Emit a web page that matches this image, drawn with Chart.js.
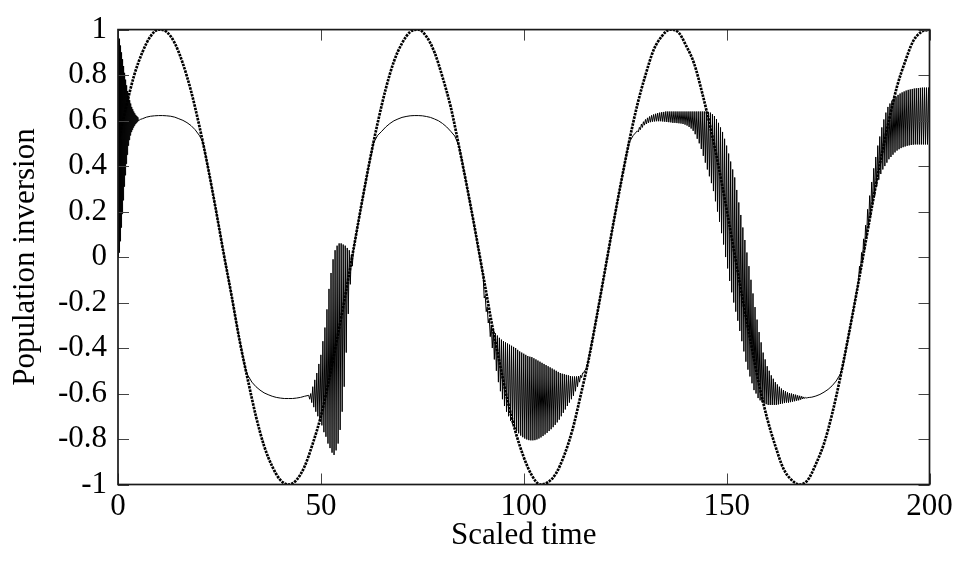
<!DOCTYPE html>
<html>
<head>
<meta charset="utf-8">
<script src="https://cdn.jsdelivr.net/npm/chart.js@4.4.0/dist/chart.umd.min.js"></script>
<style>
  html, body { margin: 0; padding: 0; background: #fff; }
</style>
</head>
<body>
<canvas id="chart" width="970" height="569"></canvas>
<script>
// dotted curve (driving field), sampled every 2 time units
const fieldTimes = [0, 2, 4, 6, 8, 10, 12, 14, 16, 18, 20, 22, 24, 26, 28, 30, 32, 34, 36, 38,
    40, 42, 44, 46, 48, 50, 52, 54, 56, 58, 60, 62, 64, 66, 68, 70, 72, 74, 76, 78,
    80, 82, 84, 86, 88, 90, 92, 94, 96, 98, 100, 102, 104, 106, 108, 110, 112, 114, 116, 118,
    120, 122, 124, 126, 128, 130, 132, 134, 136, 138, 140, 142, 144, 146, 148, 150, 152, 154, 156, 158,
    160, 162, 164, 166, 168, 170, 172, 174, 176, 178, 180, 182, 184, 186, 188, 190, 192, 194, 196, 198, 200];
const fieldValues = [0.50, 0.66, 0.80, 0.90, 0.97, 1.00, 0.99, 0.94, 0.85, 0.73, 0.58, 0.41, 0.22, 0.02, -0.17, -0.37, -0.54, -0.70, -0.83, -0.92,
    -0.98, -1.00, -0.98, -0.92, -0.82, -0.70, -0.54, -0.36, -0.17, 0.03, 0.23, 0.42, 0.59, 0.74, 0.86, 0.94, 0.99, 1.00, 0.97, 0.90,
    0.79, 0.66, 0.49, 0.31, 0.12, -0.08, -0.28, -0.46, -0.63, -0.77, -0.88, -0.96, -1.00, -0.99, -0.95, -0.87, -0.76, -0.61, -0.45, -0.26,
    -0.06, 0.14, 0.33, 0.51, 0.67, 0.80, 0.91, 0.97, 1.00, 0.99, 0.93, 0.85, 0.72, 0.57, 0.40, 0.21, 0.01, -0.19, -0.38, -0.56,
    -0.71, -0.83, -0.93, -0.98, -1.00, -0.98, -0.91, -0.82, -0.69, -0.53, -0.35, -0.16, 0.04, 0.24, 0.43, 0.60, 0.75, 0.86, 0.95, 0.99, 1.00];

// thin curve: smooth stretches as [time, inversion] pairs
const smoothOne = [[5.25, 0.602], [5.5, 0.605], [6, 0.608], [7, 0.615], [8, 0.619], [9, 0.621], [10, 0.622], [11, 0.622], [12, 0.621],
    [13, 0.619], [14, 0.615], [15, 0.608], [16, 0.601], [17, 0.591], [18, 0.578], [19, 0.56], [20, 0.536], [20.5, 0.52],
    [21, 0.5], [21.5, 0.455], [22, 0.41], [23, 0.317], [24, 0.221], [25, 0.123], [26, 0.023], [27, -0.076], [28, -0.174],
    [29, -0.272], [30, -0.367], [31, -0.457], [31.5, -0.5], [32, -0.52], [33, -0.55], [34, -0.57], [35, -0.585],
    [36, -0.597], [37, -0.605], [38, -0.612], [39, -0.617], [40, -0.62], [41, -0.622], [42, -0.622], [43, -0.622],
    [44, -0.62], [45, -0.617], [46, -0.612], [47, -0.608]];
const smoothTwo = [[59, 0.13], [60, 0.228], [61, 0.324], [62, 0.417], [62.5, 0.46], [63, 0.503], [64, 0.535], [65, 0.553],
    [66, 0.572], [67, 0.587], [68, 0.599], [69, 0.607], [70, 0.614], [71, 0.618], [72, 0.621], [73, 0.622], [74, 0.622],
    [75, 0.621], [76, 0.618], [77, 0.614], [78, 0.607], [79, 0.599], [80, 0.587], [81, 0.572], [82, 0.553], [83, 0.532],
    [84, 0.49], [84.5, 0.45], [85, 0.405], [86, 0.31], [87, 0.214], [88, 0.116], [89, 0.016], [90, -0.083]];
const smoothThree = [[115.5, -0.49], [116, -0.446], [117, -0.356], [118, -0.26], [119, -0.162], [120, -0.063], [121, 0.037],
    [122, 0.136], [123, 0.235], [124, 0.331], [125, 0.423], [125.5, 0.467], [126, 0.505], [127, 0.535], [128, 0.555]];
const smoothFour = [[170.5, -0.617], [171, -0.616], [172, -0.611], [173, -0.604], [174, -0.594], [175, -0.582], [176, -0.566],
    [177, -0.545], [178, -0.515], [178.5, -0.49], [179, -0.449], [180, -0.35], [181, -0.253], [182, -0.155], [182.5, -0.106]];

// thin curve: fast oscillation stretches, start time + values on a fixed time step
const burstStep = [0.125, 0.25, 0.25, 0.25, 0.25];
const burstFrom = [0, 47.25, 90.25, 128.25, 182.75];
const burstOne = [0, 0.98, 0.02, 0.96, 0.07, 0.93, 0.13, 0.9, 0.19, 0.87, 0.25, 0.84, 0.31, 0.81, 0.36, 0.78,
    0.41, 0.755, 0.45, 0.73, 0.49, 0.71, 0.515, 0.69, 0.535, 0.675, 0.55, 0.66, 0.56, 0.65, 0.57, 0.64,
    0.578, 0.632, 0.585, 0.625, 0.59, 0.62, 0.595, 0.615, 0.6];
const burstTwo = [-0.625, -0.6, -0.64, -0.57, -0.66, -0.54, -0.68, -0.51, -0.7, -0.47, -0.72, -0.43, -0.74, -0.37,
    -0.77, -0.31, -0.79, -0.23, -0.82, -0.14, -0.84, -0.07, -0.86, -0.01, -0.87, 0.03, -0.85, 0.05, -0.82, 0.06,
    -0.76, 0.06, -0.68, 0.055, -0.57, 0.05, -0.42, 0.04, -0.25, 0.03, -0.12, 0.01, -0.04, 0.03];
const burstThree = [-0.18, -0.17, -0.24, -0.22, -0.29, -0.27, -0.35, -0.3, -0.4, -0.32, -0.45, -0.335, -0.5, -0.345,
    -0.55, -0.355, -0.59, -0.363, -0.625, -0.37, -0.655, -0.375, -0.68, -0.38, -0.7, -0.385, -0.72, -0.39, -0.735, -0.395,
    -0.75, -0.4, -0.765, -0.408, -0.775, -0.415, -0.785, -0.42, -0.792, -0.425, -0.798, -0.43, -0.802, -0.435, -0.805, -0.438,
    -0.806, -0.44, -0.806, -0.445, -0.805, -0.45, -0.802, -0.455, -0.798, -0.46, -0.793, -0.465, -0.787, -0.47, -0.78, -0.475,
    -0.773, -0.48, -0.765, -0.485, -0.757, -0.49, -0.748, -0.495, -0.738, -0.5, -0.727, -0.505, -0.715, -0.51, -0.7, -0.513,
    -0.685, -0.515, -0.67, -0.518, -0.655, -0.52, -0.64, -0.523, -0.625, -0.525, -0.61, -0.525, -0.59, -0.525, -0.57, -0.523,
    -0.55, -0.52, -0.53, -0.51, -0.51, -0.5];
const burstFour = [0.55, 0.57, 0.56, 0.585, 0.57, 0.595, 0.58, 0.605, 0.585, 0.612, 0.59, 0.618, 0.593, 0.623, 0.595, 0.627,
    0.596, 0.63, 0.597, 0.633, 0.597, 0.635, 0.597, 0.637, 0.596, 0.638, 0.595, 0.64, 0.594, 0.64, 0.593, 0.64,
    0.592, 0.64, 0.59, 0.64, 0.59, 0.64, 0.589, 0.64, 0.588, 0.64, 0.587, 0.64, 0.585, 0.64, 0.582, 0.64,
    0.578, 0.64, 0.572, 0.64, 0.565, 0.64, 0.555, 0.64, 0.54, 0.64, 0.52, 0.64, 0.5, 0.64,
    0.475, 0.64, 0.445, 0.64, 0.415, 0.64, 0.385, 0.638, 0.355, 0.635, 0.325, 0.628, 0.29, 0.62, 0.245, 0.607,
    0.2, 0.59, 0.155, 0.57, 0.105, 0.55, 0.055, 0.52, 0, 0.49, -0.05, 0.455, -0.105, 0.42, -0.155, 0.385,
    -0.2, 0.35, -0.24, 0.295, -0.28, 0.24, -0.325, 0.185, -0.37, 0.13, -0.415, 0.075, -0.46, 0.02, -0.495, -0.04,
    -0.525, -0.1, -0.555, -0.16, -0.585, -0.22, -0.6, -0.275, -0.62, -0.33, -0.63, -0.375, -0.638, -0.42, -0.643, -0.45,
    -0.647, -0.48, -0.65, -0.5, -0.65, -0.52, -0.65, -0.535, -0.65, -0.55, -0.65, -0.56, -0.648, -0.57, -0.646, -0.578,
    -0.644, -0.585, -0.642, -0.59, -0.64, -0.595, -0.64, -0.598, -0.638, -0.6, -0.636, -0.603, -0.634, -0.605, -0.632, -0.608,
    -0.63, -0.61, -0.627, -0.612, -0.624, -0.615, -0.622, -0.617, -0.62, -0.618];
const burstFive = [-0.04, -0.07, 0.02, -0.02, 0.08, 0.03, 0.14, 0.08, 0.21, 0.13, 0.27, 0.18, 0.33, 0.23, 0.39, 0.27,
    0.44, 0.31, 0.49, 0.34, 0.53, 0.365, 0.57, 0.385, 0.605, 0.4, 0.635, 0.415, 0.66, 0.43, 0.675, 0.44,
    0.688, 0.45, 0.698, 0.46, 0.706, 0.468, 0.713, 0.474, 0.719, 0.479, 0.724, 0.483, 0.728, 0.486, 0.732, 0.489,
    0.735, 0.491, 0.737, 0.493, 0.739, 0.494, 0.741, 0.495, 0.742, 0.495, 0.743, 0.495, 0.744, 0.495, 0.745, 0.495,
    0.745, 0.495, 0.745, 0.495, 0.745, 0.495];

const xTicks = [0, 50, 100, 150, 200];
const yTicks = [-1, -0.8, -0.6, -0.4, -0.2, 0, 0.2, 0.4, 0.6, 0.8, 1];
const yTickLabels = ['-1', '-0.8', '-0.6', '-0.4', '-0.2', '0', '0.2', '0.4', '0.6', '0.8', '1'];

const toPoints = (k, vals) => vals.map((v, i) => ({ x: burstFrom[k] + i * burstStep[k], y: v }));
const pairPoints = (pairs) => pairs.map(p => ({ x: p[0], y: p[1] }));

const fieldPoints = fieldTimes.map((t, i) => ({ x: t, y: fieldValues[i] }));
const inversionPoints = [].concat(
    toPoints(0, burstOne), pairPoints(smoothOne),
    toPoints(1, burstTwo), pairPoints(smoothTwo),
    toPoints(2, burstThree), pairPoints(smoothThree),
    toPoints(3, burstFour), pairPoints(smoothFour),
    toPoints(4, burstFive)
);

const TICK_LEN = 11;

// gnuplot-like frame with inward ticks on all four sides
const frame = {
    id: "frame",
    afterDatasetsDraw: (chart) => {
        const { ctx, chartArea: a, scales } = chart;
        ctx.save();
        ctx.strokeStyle = "#444";
        ctx.lineWidth = 1;
        ctx.beginPath();
        scales.x.ticks.forEach(t => {
            const p = Math.round(scales.x.getPixelForValue(t.value)) + 0.5;
            ctx.moveTo(p, a.bottom); ctx.lineTo(p, a.bottom - TICK_LEN);
            ctx.moveTo(p, a.top); ctx.lineTo(p, a.top + TICK_LEN);
        });
        scales.y.ticks.forEach(t => {
            const p = Math.round(scales.y.getPixelForValue(t.value)) + 0.5;
            ctx.moveTo(a.left, p); ctx.lineTo(a.left + TICK_LEN, p);
            ctx.moveTo(a.right, p); ctx.lineTo(a.right - TICK_LEN, p);
        });
        ctx.stroke();
        ctx.strokeStyle = "#1a1a1a";
        ctx.lineWidth = 1.7;
        ctx.strokeRect(a.left, a.top, a.right - a.left, a.bottom - a.top);
        ctx.restore();
    },
};

Chart.defaults.font.family = "'Liberation Serif', 'Times New Roman', serif";
Chart.defaults.font.size = 31;
Chart.defaults.color = "#000";

new Chart(document.getElementById("chart"), {
    type: "line",
    data: {
        datasets: [
            {
                label: "inversion",
                data: inversionPoints,
                borderColor: "#000",
                borderWidth: 1,
                pointRadius: 0,
                tension: 0,
            },
            {
                label: "field",
                data: fieldPoints,
                borderColor: "#000",
                borderWidth: 2.7,
                borderDash: [2.5, 1],
                pointRadius: 0,
                cubicInterpolationMode: "monotone",
            },
        ],
    },
    options: {
        responsive: false,
        devicePixelRatio: 1,
        animation: false,
        layout: { padding: { left: 0, top: 19, right: 40.5, bottom: 0 } },
        plugins: { legend: { display: false }, tooltip: { enabled: false } },
        scales: {
            x: {
                type: "linear",
                min: 0,
                max: 200,
                afterBuildTicks: (s) => { s.ticks = xTicks.map(v => ({ value: v })); },
                afterFit: (s) => { s.height = 84.5; },
                ticks: { padding: 4, maxRotation: 0 },
                grid: { display: false, drawTicks: false },
                border: { display: false },
                title: { display: true, text: "Scaled time", padding: { top: 0, bottom: 15 } },
            },
            y: {
                type: "linear",
                min: -1,
                max: 1,
                afterBuildTicks: (s) => { s.ticks = yTicks.map(v => ({ value: v })); },
                afterFit: (s) => { s.width = 118; },
                ticks: {
                    padding: 11,
                    callback: (v) => yTickLabels[yTicks.findIndex(t => Math.abs(t - v) < 1e-9)],
                },
                grid: { display: false, drawTicks: false },
                border: { display: false },
                title: { display: true, text: "Population inversion", padding: { top: 7, bottom: 0 } },
            },
        },
    },
    plugins: [frame],
});
</script>
</body>
</html>
